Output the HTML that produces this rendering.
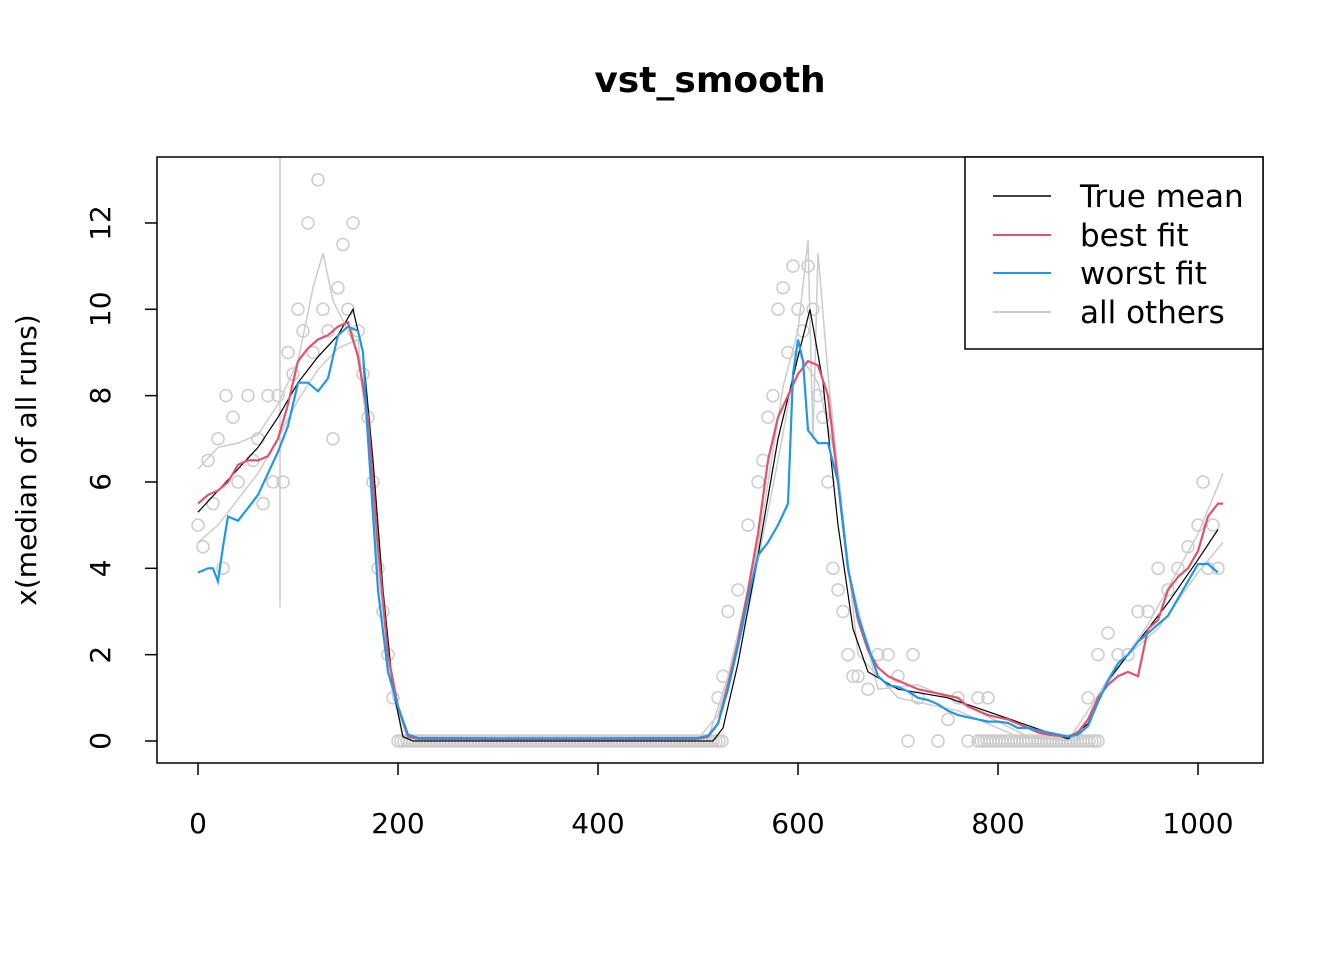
<!DOCTYPE html>
<html><head><meta charset="utf-8"><style>
body{margin:0;background:#fff}
svg text{font-family:"DejaVu Sans","Liberation Sans",sans-serif}
</style></head><body>
<svg id="chart" width="1344" height="960" xmlns="http://www.w3.org/2000/svg">
<defs><clipPath id="clip"><rect x="157" y="157" width="1106" height="606"/></clipPath></defs>
<text x="710" y="92" text-anchor="middle" font-size="36" font-weight="bold">vst_smooth</text>
<text transform="translate(36,460) rotate(-90)" text-anchor="middle" font-size="28">x(median of all runs)</text>
<g id="axes"></g>
<g id="marks" clip-path="url(#clip)"></g>
<rect x="157" y="157" width="1106" height="606" fill="none" stroke="#000" stroke-width="1.5"/>
<g>
<rect x="965" y="157" width="298" height="192" fill="#fff" stroke="#000" stroke-width="1.5"/>
<line x1="993" y1="196" x2="1051" y2="196" stroke="#000" stroke-width="1.5"/>
<text x="1080" y="207" font-size="31">True mean</text>
<line x1="993" y1="235" x2="1051" y2="235" stroke="#DF536B" stroke-width="2"/>
<text x="1080" y="246" font-size="31">best fit</text>
<line x1="993" y1="273" x2="1051" y2="273" stroke="#2297E6" stroke-width="2"/>
<text x="1080" y="284" font-size="31">worst fit</text>
<line x1="993" y1="312" x2="1051" y2="312" stroke="#CCCCCC" stroke-width="2"/>
<text x="1080" y="323" font-size="31">all others</text>
</g>
</svg>
<script>
const xTicks=[0,200,400,600,800,1000];
const yTicks=[0,2,4,6,8,10,12];
const bestX=[0,10,20,30,40,50,60,70,80,90,100,110,120,130,140,150,160,170,180,190,200,210,220,300,400,500,510,520,530,540,550,560,570,580,590,600,610,620,630,640,650,660,670,680,690,700,710,720,730,740,750,760,770,780,790,800,810,820,830,840,850,860,870,880,890,900,910,920,930,940,950,960,970,980,990,1000,1010,1020,1025];
const bestY=[5.5,5.7,5.8,6.0,6.4,6.5,6.5,6.6,7.0,7.8,8.8,9.1,9.3,9.4,9.6,9.7,8.9,7.5,4.5,2.0,0.8,0.1,0.05,0.04,0.04,0.05,0.1,0.4,1.3,2.3,3.5,4.8,6.5,7.5,8.0,8.5,8.8,8.7,8.0,6.0,4.0,2.8,2.1,1.7,1.5,1.4,1.3,1.2,1.15,1.1,1.05,1.0,0.8,0.7,0.6,0.55,0.5,0.4,0.3,0.2,0.15,0.12,0.1,0.2,0.5,1.0,1.3,1.5,1.6,1.5,2.6,2.8,3.5,3.8,4.0,4.4,5.2,5.5,5.5];
const worstX=[0,10,15,20,25,30,40,50,60,70,80,90,100,110,120,130,140,150,160,165,170,180,190,200,210,220,300,400,500,510,520,530,540,550,560,570,580,590,595,600,605,610,620,630,640,650,660,670,680,690,700,710,720,730,740,750,760,770,780,790,800,810,820,830,840,850,860,870,880,890,900,910,920,930,940,950,960,970,980,990,1000,1010,1020];
const worstY=[3.9,4.0,4.0,3.7,4.5,5.2,5.1,5.4,5.7,6.2,6.7,7.3,8.3,8.3,8.1,8.4,9.4,9.6,9.5,9.0,7.0,3.5,1.6,0.8,0.15,0.07,0.06,0.06,0.07,0.12,0.4,1.2,2.2,3.3,4.3,4.6,5.0,5.5,8.5,9.3,8.8,7.2,6.9,6.9,6.0,4.0,2.9,2.2,1.5,1.3,1.25,1.15,1.0,0.95,0.85,0.7,0.6,0.55,0.5,0.45,0.45,0.42,0.3,0.3,0.25,0.2,0.15,0.1,0.15,0.35,0.9,1.4,1.8,2.0,2.3,2.5,2.7,2.9,3.3,3.7,4.1,4.1,3.9];
const trueX=[0,20,40,60,80,100,120,140,155,165,175,185,195,205,215,500,515,525,540,560,580,600,612,625,640,655,670,700,750,800,850,870,890,910,940,970,1000,1020];
const trueY=[5.3,5.8,6.3,6.8,7.5,8.3,8.9,9.4,10.0,9.0,6.5,3.5,1.2,0.1,0.0,0.0,0.0,0.3,1.8,4.3,7.0,8.9,10.0,8.3,5.0,2.6,1.6,1.2,1.0,0.6,0.2,0.05,0.4,1.4,2.3,3.2,4.2,4.9];
const other1X=[0,20,40,60,80,100,115,125,135,150,160,170,180,195,210,510,530,560,585,600,610,615,620,630,650,680,720,770,830,880,900,950,1000,1025];
const other1Y=[6.3,6.8,6.9,7.1,7.8,8.8,10.5,11.3,10.2,9.5,9.0,7.0,4.0,1.0,0.05,0.05,1.5,4.5,8.2,9.5,11.6,7.0,11.3,8.5,4.0,1.2,1.3,0.8,0.1,0.0,1.0,2.7,4.8,6.2];
const other2X=[0,20,40,60,80,100,120,140,160,175,190,205,500,520,550,580,600,620,640,660,700,760,820,870,890,920,960,1000,1025];
const other2Y=[4.6,5.0,5.6,6.2,7.0,7.9,8.6,9.1,9.3,6.0,1.8,0.05,0.05,0.6,3.0,6.5,9.0,8.3,6.3,2.0,1.0,0.7,0.1,0.0,0.7,1.8,2.6,3.9,4.6];
const ptX=[0,5,10,15,20,25,28,35,40,50,55,60,65,70,75,80,85,90,95,100,105,110,115,120,125,130,135,140,145,150,155,160,165,170,175,180,185,190,195,520,525,530,540,550,560,565,570,575,580,585,590,595,600,605,610,615,620,625,630,635,640,645,650,655,660,670,680,690,700,710,715,720,740,750,760,770,780,790,890,900,910,920,930,940,950,960,970,980,990,1000,1005,1010,1015,1020];
const ptY=[5,4.5,6.5,5.5,7,4,8,7.5,6,8,6.5,7,5.5,8,6,8,6,9,8.5,10,9.5,12,9,13,10,9.5,7,10.5,11.5,10,12,9.5,8.5,7.5,6,4,3,2,1,1,1.5,3,3.5,5,6,6.5,7.5,8,10,10.5,9,11,10,9.5,11,10,8,7.5,6,4,3.5,3,2,1.5,1.5,1.2,2,2,1.5,0,2,1,0,0.5,1,0,1,1,1,2,2.5,2,2,3,3,4,3.5,4,4.5,5,6,4,5,4];
const baseRanges=[[200,525],[780,900]];
const NS='http://www.w3.org/2000/svg';
const sx=v=>198+v*1.0, sy=v=>741-v*43.17;
const axes=document.getElementById('axes'), marks=document.getElementById('marks');
function mk(tag,attrs,parent){const e=document.createElementNS(NS,tag);for(const k in attrs)e.setAttribute(k,attrs[k]);parent.appendChild(e);return e;}
xTicks.forEach(t=>{
  const l=mk('line',{x1:sx(t),y1:763,x2:sx(t),y2:775,stroke:'#000','stroke-width':1.5},axes);
  
  
  const tx=mk('text',{x:sx(t),y:833,'text-anchor':'middle','font-size':28},axes);tx.textContent=t;
  
  
});
yTicks.forEach(t=>{
  const l=mk('line',{x1:145,y1:sy(t),x2:157,y2:sy(t),stroke:'#000','stroke-width':1.5},axes);
  
  
  const tx=mk('text',{transform:`translate(110,${sy(t)}) rotate(-90)`,'text-anchor':'middle','font-size':28},axes);tx.textContent=t;
  
  
});
function line(xs,ys,color,w,name){
  const d=xs.map((x,i)=>(i?'L':'M')+sx(x).toFixed(1)+','+sy(ys[i]).toFixed(1)).join('');
  const p=mk('path',{d:d,fill:'none',stroke:color,'stroke-width':w},marks);
  
  
}
baseRanges.forEach(r=>{
  for(let x=r[0];x<=r[1];x+=3){
    const c=mk('circle',{cx:sx(x),cy:sy(0),r:6,fill:'none',stroke:'#CCCCCC','stroke-width':1.5},marks);
    
    
  }
});
ptX.forEach((x,i)=>{
  const c=mk('circle',{cx:sx(x),cy:sy(ptY[i]),r:6,fill:'none',stroke:'#CCCCCC','stroke-width':1.5},marks);
  
  
});
const vl=mk('line',{x1:sx(82),y1:sy(3.1),x2:sx(82),y2:150,stroke:'#CCCCCC','stroke-width':1.5},marks);


line(other1X,other1Y,'#CCCCCC',1.5,'other-run-line');
line(other2X,other2Y,'#CCCCCC',1.5,'other-run-line');
line(trueX,trueY,'#000',1.2,'true-mean-line');
line(bestX,bestY,'#DF536B',2.2,'best-fit-line');
line(worstX,worstY,'#2297E6',2.2,'worst-fit-line');
</script>
</body></html>
